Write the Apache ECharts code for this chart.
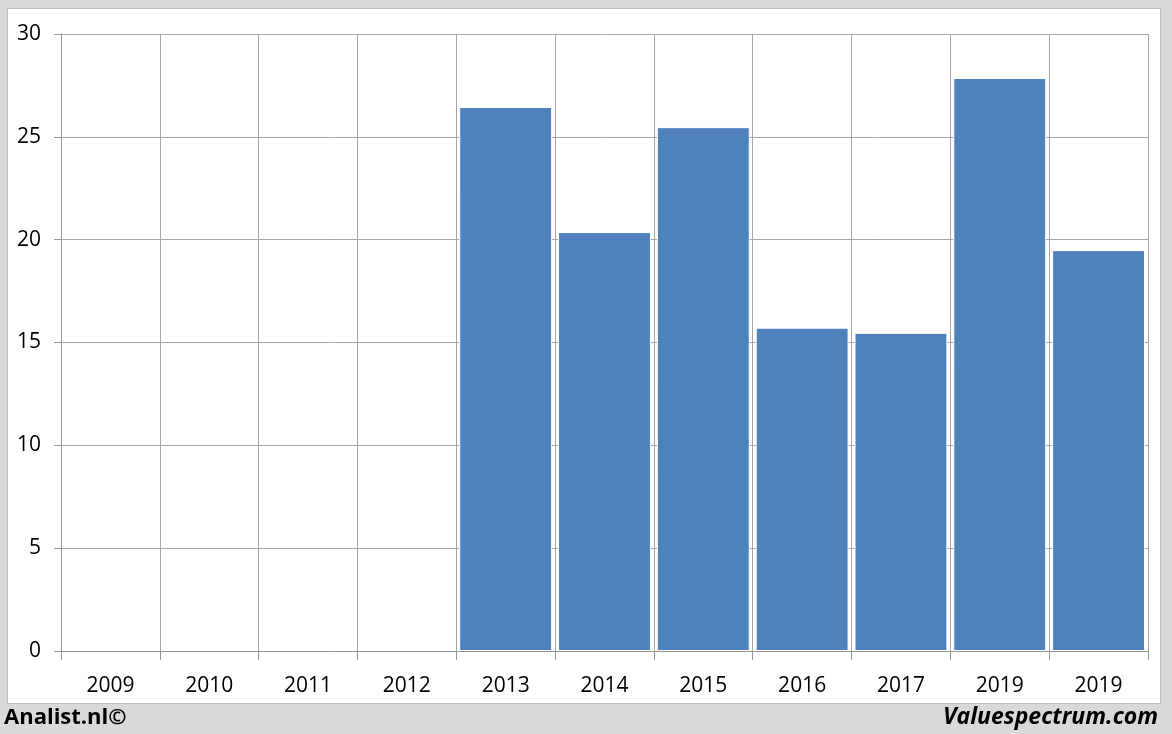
<!DOCTYPE html>
<html><head><meta charset="utf-8">
<script src="https://cdn.jsdelivr.net/npm/echarts@6/dist/echarts.min.js"></script>
<style>html,body{margin:0;padding:0;background:#d9d9d9}#c{width:1172px;height:734px}</style>
</head><body><div id="c"></div>
<script>
const categories = ['2009','2010','2011','2012','2013','2014','2015','2016','2017','2019','2019'];
const values = [null, null, null, null, 26.45, 20.37, 25.47, 15.72, 15.47, 27.86, 19.49];
const yTicks = [0, 5, 10, 15, 20, 25, 30];

const chart = echarts.init(document.getElementById('c'), null, {renderer: 'canvas'});
const font = '"Open Sans", "Liberation Sans", sans-serif';
chart.setOption({
  backgroundColor: '#d9d9d9',
  animation: false,
  graphic: [
    {type: 'rect', z: -10, shape: {x: 7.5, y: 8.5, width: 1153, height: 695},
     style: {fill: '#ffffff', stroke: '#bfbfbf', lineWidth: 1}},
    {type: 'text', left: 4, top: 707, style: {text: 'Analist.nl©', font: 'bold 22px ' + font, fill: '#000'}},
    {type: 'text', right: 14, top: 706, style: {text: 'Valuespectrum.com', font: 'italic bold 23px ' + font, fill: '#000'}}
  ],
  grid: {left: 61, right: 24, top: 34, bottom: 83, containLabel: false},
  xAxis: {
    type: 'category',
    data: categories,
    boundaryGap: true,
    axisLine: {lineStyle: {color: '#969696', width: 1}},
    axisTick: {show: true, length: 9, alignWithLabel: false, lineStyle: {color: '#969696'}},
    axisLabel: {color: '#000', fontSize: 21, fontFamily: font, margin: 25, interval: 0},
    splitLine: {show: true, interval: 0, lineStyle: {color: '#a6a6a6', width: 1}}
  },
  yAxis: {
    type: 'value',
    min: yTicks[0], max: yTicks[yTicks.length - 1], interval: 5,
    axisLine: {show: true, lineStyle: {color: '#969696'}},
    axisTick: {show: true, length: 7, lineStyle: {color: '#969696'}},
    axisLabel: {color: '#000', fontSize: 21, fontFamily: font, margin: 20},
    splitLine: {show: true, lineStyle: {color: '#a6a6a6', width: 1}}
  },
  series: [{
    type: 'bar',
    data: values,
    barCategoryGap: '6%',
    itemStyle: {color: '#4f81bd', borderColor: '#ffffff', borderWidth: 1}
  }]
});
</script></body></html>
